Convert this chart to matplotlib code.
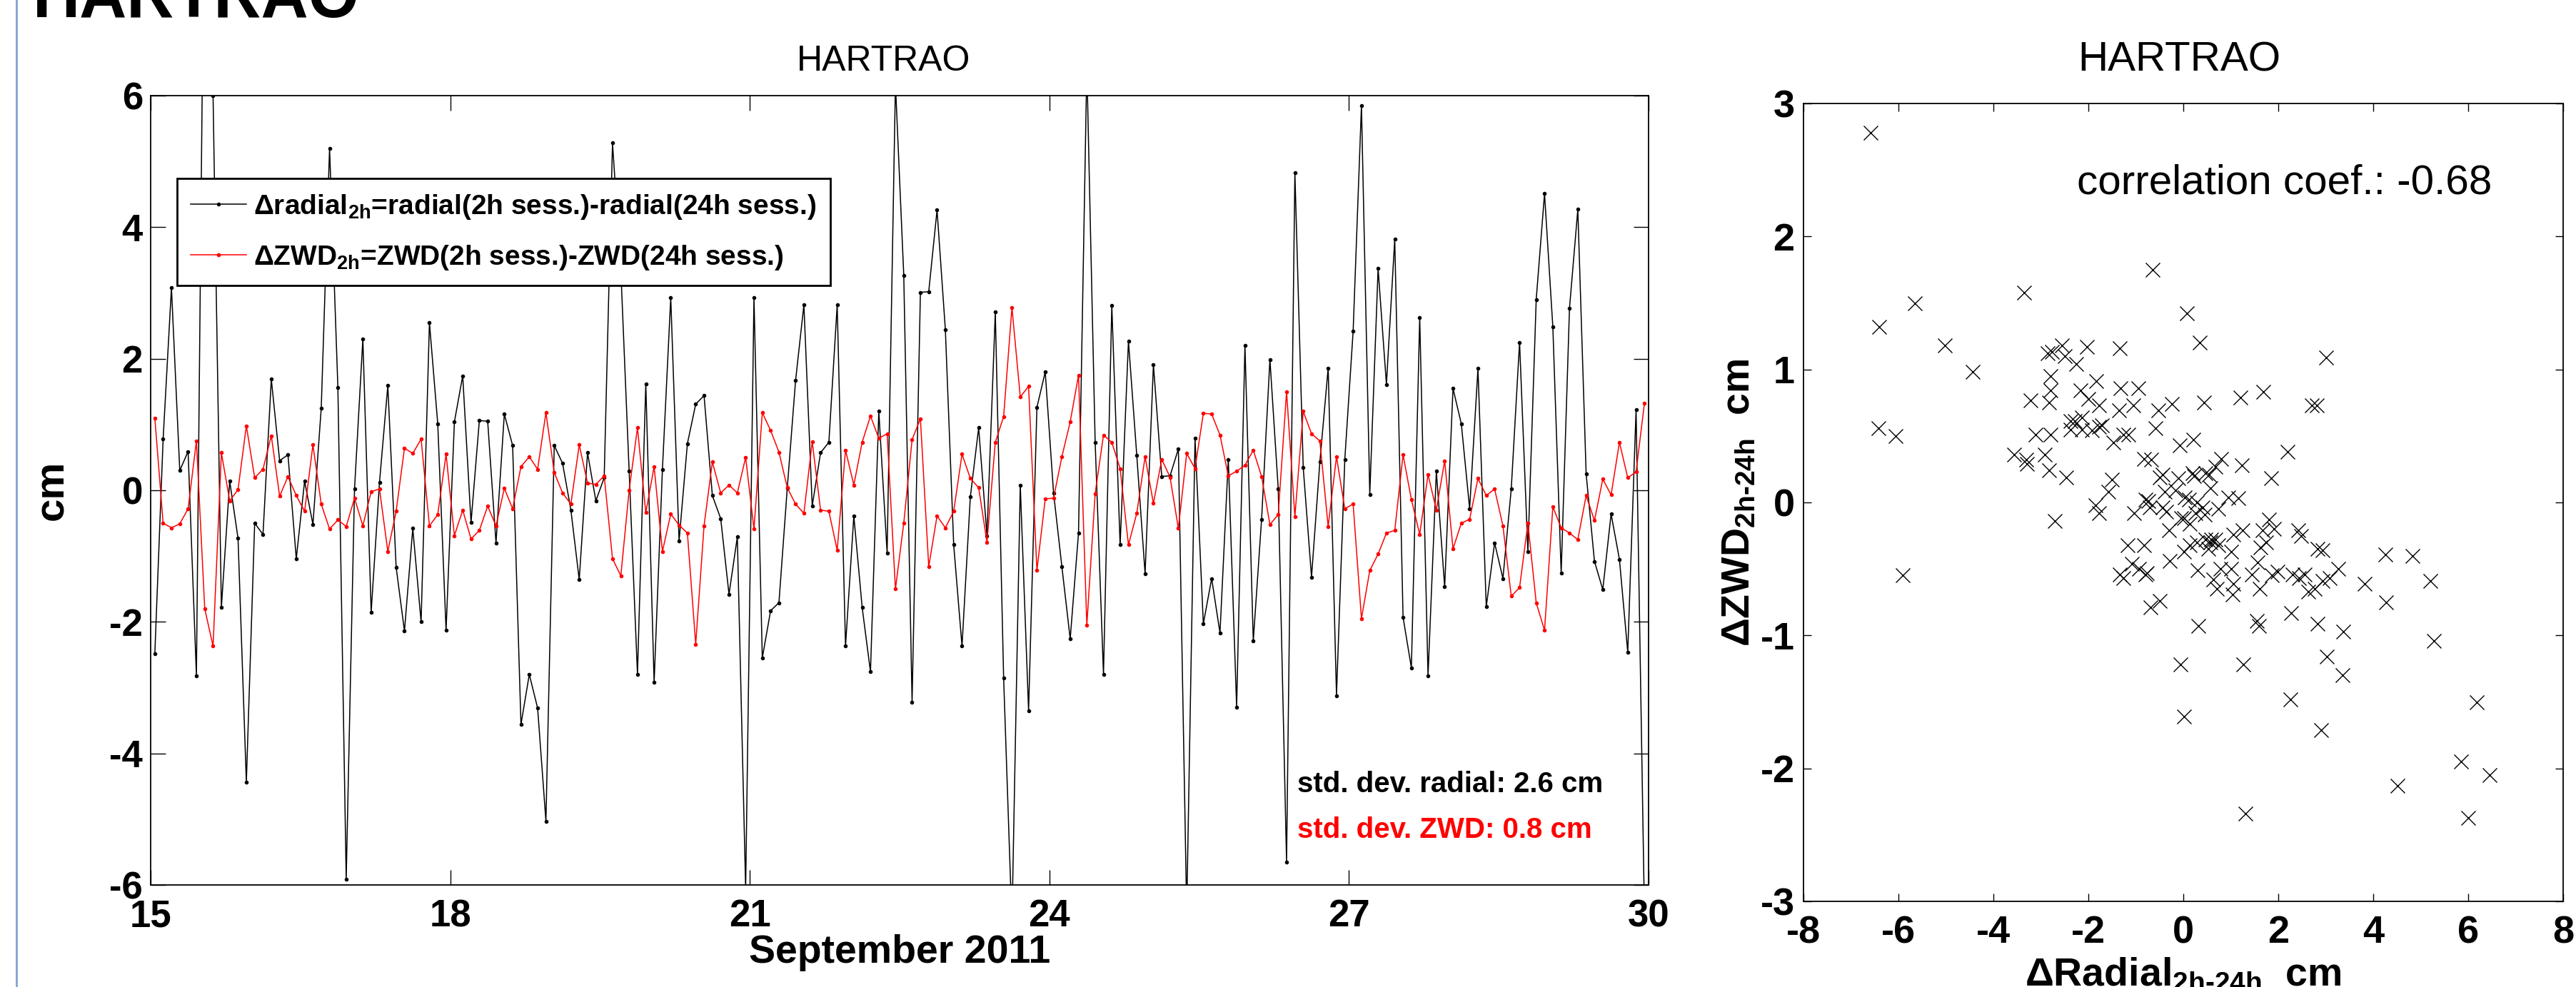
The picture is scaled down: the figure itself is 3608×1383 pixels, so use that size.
import matplotlib
matplotlib.use('Agg')
import matplotlib.pyplot as plt
import numpy as np
from matplotlib.lines import Line2D

plt.rcParams['font.family'] = ['Liberation Sans', 'DejaVu Sans']
plt.rcParams['mathtext.fontset'] = 'custom'
plt.rcParams['mathtext.rm'] = 'Liberation Sans:bold'
plt.rcParams['mathtext.bf'] = 'Liberation Sans:bold'
plt.rcParams['mathtext.it'] = 'Liberation Sans:bold'
plt.rcParams['axes.unicode_minus'] = False

station = 'HARTRAO'

# 2h sessions, 15-30 Sept 2011, values at session mid time (hours after 15.0)
hours = np.arange(1, 360, 2)

# radial(2h) - radial(24h), cm
radial = [-2.49, 0.78, 3.08, 0.30, 0.59, -2.82, 10.0, 6.0, -1.78, 0.14,
          -0.73, -4.44, -0.50, -0.67, 1.69, 0.45, 0.54, -1.04, 0.14, -0.52,
          1.25, 5.20, 1.56, -5.91, 0.02, 2.30, -1.85, 0.12, 1.59, -1.17,
          -2.14, -0.58, -2.00, 2.55, 1.01, -2.13, 1.04, 1.74, -0.49, 1.06,
          1.05, -0.80, 1.16, 0.68, -3.56, -2.80, -3.31, -5.03, 0.68, 0.41,
          -0.30, -1.36, 0.57, -0.16, 0.19, 5.28, 3.35, 0.29, -2.80, 1.62,
          -2.92, 0.32, 2.93, -0.77, 0.71, 1.31, 1.44, -0.08, -0.43, -1.58,
          -0.71, -6.06, 2.93, -2.55, -1.83, -1.71, 0.03, 1.67, 2.82, -0.24,
          0.57, 0.73, 2.82, -2.37, -0.39, -1.78, -2.76, 1.20, -0.95, 6.18,
          3.27, -3.22, 3.01, 3.02, 4.26, 2.44, -0.83, -2.37, -0.10, 0.95,
          -0.69, 2.71, -2.85, -6.58, 0.08, -3.35, 1.26, 1.80, -0.04, -1.16,
          -2.26, -0.65, 6.45, 0.73, -2.80, 2.81, -0.83, 2.27, 0.53, -1.27,
          1.91, 0.21, 0.22, 0.63, -6.42, 0.79, -2.03, -1.34, -2.17, 0.47,
          -3.30, 2.20, -2.29, -0.44, 1.99, 0.02, -5.65, 4.83, 0.35, -1.32,
          0.43, 1.86, -3.12, 0.47, 2.42, 5.85, -0.06, 3.37, 1.61, 3.82,
          -1.93, -2.70, 2.63, -2.82, 0.29, -1.47, 1.55, 1.01, -0.28, 1.85,
          -1.77, -0.80, -1.34, 0.02, 2.25, -0.93, 2.90, 4.51, 2.48, -1.26,
          2.77, 4.27, 0.25, -1.08, -1.51, -0.36, -1.05, -2.46, 1.23, -6.40]

# ZWD(2h) - ZWD(24h), cm
zwd = [1.10, -0.50, -0.57, -0.51, -0.28, 0.75, -1.80, -2.37, 0.57, -0.16,
       0.01, 0.98, 0.19, 0.32, 0.83, -0.09, 0.21, -0.08, -0.32, 0.69,
       -0.21, -0.59, -0.45, -0.55, -0.12, -0.54, -0.02, 0.02, -0.93, -0.32,
       0.64, 0.56, 0.78, -0.54, -0.37, 0.55, -0.69, -0.30, -0.74, -0.61,
       -0.24, -0.54, 0.03, -0.28, 0.36, 0.51, 0.32, 1.18, 0.27, -0.04,
       -0.21, 0.69, 0.11, 0.09, 0.22, -1.04, -1.30, 0.00, 0.95, -0.34,
       0.36, -0.93, -0.36, -0.53, -0.65, -2.34, -0.54, 0.43, -0.04, 0.08,
       -0.04, 0.50, -0.59, 1.18, 0.91, 0.58, 0.04, -0.21, -0.35, 0.74,
       -0.30, -0.32, -0.91, 0.61, 0.08, 0.73, 1.13, 0.79, 0.86, -1.50,
       -0.50, 0.77, 1.09, -1.16, -0.39, -0.57, -0.32, 0.55, 0.18, 0.04,
       -0.79, 0.73, 1.12, 2.78, 1.42, 1.58, -1.22, -0.13, -0.12, 0.51,
       1.04, 1.75, -2.05, -0.05, 0.84, 0.73, 0.33, -0.83, -0.35, 0.51,
       -0.20, 0.47, 0.20, -0.58, 0.56, 0.33, 1.17, 1.16, 0.84, 0.22,
       0.29, 0.38, 0.61, 0.21, -0.52, -0.37, 1.50, -0.40, 1.20, 0.86,
       0.75, -0.55, 0.51, -0.28, -0.21, -1.95, -1.22, -0.97, -0.65, -0.61,
       0.54, -0.14, -0.67, 0.24, -0.30, 0.45, -0.89, -0.50, -0.44, 0.18,
       -0.08, 0.02, -0.54, -1.61, -1.48, -0.50, -1.71, -2.13, -0.25, -0.57,
       -0.65, -0.75, -0.08, -0.46, 0.17, -0.07, 0.73, 0.19, 0.28, 1.32]

day_ticks = [15, 18, 21, 24, 27, 30]
std_radial = 2.6
std_zwd = 0.8
corr_coef = -0.68

t = 15 + hours / 24.

W, H = 3608, 1383
fig = plt.figure(figsize=(W / 100, H / 100), dpi=100)

# slide border + cut big title
fig.add_artist(Line2D([23 / W, 23 / W], [0, 1], transform=fig.transFigure, color='#7da2d6', lw=2))
fig.text(46 / W, 1 - 24 / H, station, fontsize=66, fontweight='bold', va='baseline')

# ---- time series ----
ax1 = fig.add_axes([211 / W, 143 / H, 2098 / W, 1106 / H])
ax1.plot(t, radial, color='black', lw=1.1, marker='.', ms=6,
         label='Δradial$_{\\mathrm{2h}}$=radial(2h sess.)-radial(24h sess.)')
ax1.plot(t, zwd, color='red', lw=1.1, marker='.', ms=6,
         label='ΔZWD$_{\\mathrm{2h}}$=ZWD(2h sess.)-ZWD(24h sess.)')
ax1.set_xlim(15, 30)
ax1.set_ylim(-6, 6)
ax1.set_xticks(day_ticks)
ax1.set_yticks(np.arange(-6, 7, 2))
ax1.tick_params(direction='in', length=15, width=1, top=True, right=True, labelsize=38)
ax1.tick_params(axis='x', pad=14)
ax1.tick_params(axis='y', pad=8)
for lab in ax1.get_xticklabels() + ax1.get_yticklabels():
    lab.set_fontweight('bold')
for s in ax1.spines.values():
    s.set_linewidth(1.3)
ax1.set_xlabel('September 2011', fontsize=40, fontweight='bold')
ax1.xaxis.set_label_coords(0.5, -0.062)
ax1.set_ylabel('cm', fontsize=42, fontweight='bold')
ax1.yaxis.set_label_coords(-0.053, 0.5)
fig.text(1238 / W, 1 - 99 / H, station, fontsize=36, ha='center', va='baseline')

leg = ax1.legend(loc='upper left', bbox_to_anchor=(0.0176, 0.895), borderaxespad=0,
                 prop={'weight': 'bold', 'size': 28}, fancybox=False, framealpha=1,
                 edgecolor='black', handlelength=2.0, handletextpad=0.25,
                 borderpad=0.5, labelspacing=0.8)
leg.get_frame().set_linewidth(2)

fig.text(1817 / W, 1 - 1110 / H, 'std. dev. radial: %.1f cm' % std_radial,
         fontsize=29, fontweight='bold', va='baseline', color='black')
fig.text(1817 / W, 1 - 1174 / H, 'std. dev. ZWD: %.1f cm' % std_zwd,
         fontsize=29, fontweight='bold', va='baseline', color='red')

# ---- scatter ----
ax2 = fig.add_axes([2526 / W, 120 / H, 1064 / W, 1118 / H])
ax2.plot(radial, zwd, 'x', color='black', ms=14, mew=1.0)
ax2.set_xlim(-8, 8)
ax2.set_ylim(-3, 3)
ax2.set_xticks(np.arange(-8, 9, 2))
ax2.set_yticks(np.arange(-3, 4, 1))
ax2.tick_params(direction='in', length=8, width=1, top=True, right=True, labelsize=39)
ax2.tick_params(axis='x', pad=14)
ax2.tick_params(axis='y', pad=9)
for lab in ax2.get_xticklabels() + ax2.get_yticklabels():
    lab.set_fontweight('bold')
for s in ax2.spines.values():
    s.set_linewidth(1.3)
ax2.set_xlabel('ΔRadial$_{\\text{2h-24h}}$  cm', fontsize=40, fontweight='bold')
ax2.xaxis.set_label_coords(0.5, -0.069)
ax2.set_ylabel('ΔZWD$_{\\text{2h-24h}}$  cm', fontsize=40, fontweight='bold')
ax2.yaxis.set_label_coords(-0.06, 0.5)
fig.text(3052 / W, 1 - 100 / H, station, fontsize=42, ha='center', va='baseline')
fig.text(2909 / W, 1 - 272 / H, 'correlation coef.: %.2f' % corr_coef,
         fontsize=42, va='baseline')

fig.savefig('out.png', dpi=100)
